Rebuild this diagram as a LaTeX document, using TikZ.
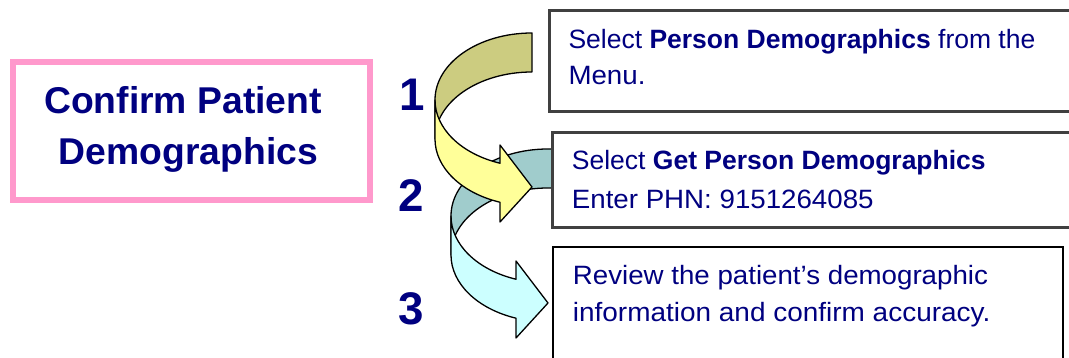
\documentclass[tikz,border=0pt]{standalone}
\usepackage{fontspec}
\usepackage{graphicx}
\setmainfont{Liberation Sans}
\definecolor{navy}{RGB}{0,0,128}
\definecolor{pinkline}{RGB}{255,153,204}
\definecolor{oliveband}{RGB}{204,204,128}
\definecolor{paleyellow}{RGB}{255,255,153}
\definecolor{tealband}{RGB}{160,204,204}
\definecolor{palecyan}{RGB}{204,255,255}
\definecolor{boxgray}{RGB}{64,64,64}
\newcommand{\wider}[1]{\scalebox{1.045}[1]{#1}}
\begin{document}
\begin{tikzpicture}[x=1pt,y=1pt,
  band/.style={draw=black, line width=1.3pt, line join=round},
  stepbox/.style={draw=boxgray, line width=3pt, fill=white, anchor=north west, inner sep=0pt},
  body/.style={font=\fontsize{26.5}{32}\selectfont, text=navy, inner sep=0pt, anchor=base west},
  titletext/.style={font=\bfseries\fontsize{37.3}{44}\selectfont, text=navy, inner sep=0pt, anchor=base},
  num/.style={font=\bfseries\fontsize{45.7}{50}\selectfont, text=navy, inner sep=0pt, anchor=base},
]
\useasboundingbox (0,0) rectangle (1069,358);

% arrow 2 (back then front)
\filldraw[band, fill=tealband] (553,209) -- (548,209)
  arc[start angle=90,end angle=180,x radius=97,y radius=67] -- (451,103)
  arc[start angle=180,end angle=90,x radius=97,y radius=67] -- (553,170) -- cycle;
\filldraw[band, fill=palecyan] (451,142)
  arc[start angle=180,end angle=250.74,x radius=97,y radius=67]
  -- (516,97) -- (548,55) -- (516,20) -- (516,39.8)
  arc[start angle=250.74,end angle=180,x radius=97,y radius=67] -- cycle;

% arrow 1 (back then front)
\filldraw[band, fill=oliveband] (532,325)
  arc[start angle=90,end angle=180,x radius=97,y radius=67] -- (435,219)
  arc[start angle=180,end angle=90,x radius=97,y radius=67] -- cycle;
\filldraw[band, fill=paleyellow] (435,258)
  arc[start angle=180,end angle=250.74,x radius=97,y radius=67]
  -- (500,213) -- (532,171) -- (500,136) -- (500,155.75)
  arc[start angle=250.74,end angle=180,x radius=97,y radius=67] -- cycle;

% title box
\node[draw=pinkline, line width=6pt, fill=white, anchor=north west, inner sep=0pt,
      minimum width=356.4pt, minimum height=138pt] (title) at (10.3,299) {};
\node[titletext] (titleA) at (183,244.7) {Confirm Patient};
\node[titletext] (titleB) at (188.5,193) {Demographics};

% step boxes
\node[stepbox, minimum width=532.5pt, minimum height=101.3pt] (box1) at (547.5,349.3) {};
\node[stepbox, minimum width=529pt, minimum height=94.7pt] (box2) at (551,227) {};
\node[stepbox, draw=black, line width=2pt, minimum width=510pt, minimum height=140pt] (box3) at (551.7,112) {};

\node[body] (t1a) at (568.3,309.7) {Select \textbf{Person Demographics} from the};
\node[body] (t1b) at (568.3,273) {\wider{Menu.}};
\node[body] (t2a) at (571.7,188) {Select \textbf{Get Person Demographics}};
\node[body] (t2b) at (571.7,149.7) {\wider{Enter PHN: 9151264085}};
\node[body] (t3a) at (572.7,73) {\wider{Review the patient’s demographic}};
\node[body] (t3b) at (572.7,36.3) {\scalebox{1.055}[1]{information and confirm accuracy.}};

% numbers
\node[num] (n1) at (412.5,247.3) {1};
\node[num] (n2) at (411.5,146) {2};
\node[num] (n3) at (411.5,33) {3};
\end{tikzpicture}
\end{document}
